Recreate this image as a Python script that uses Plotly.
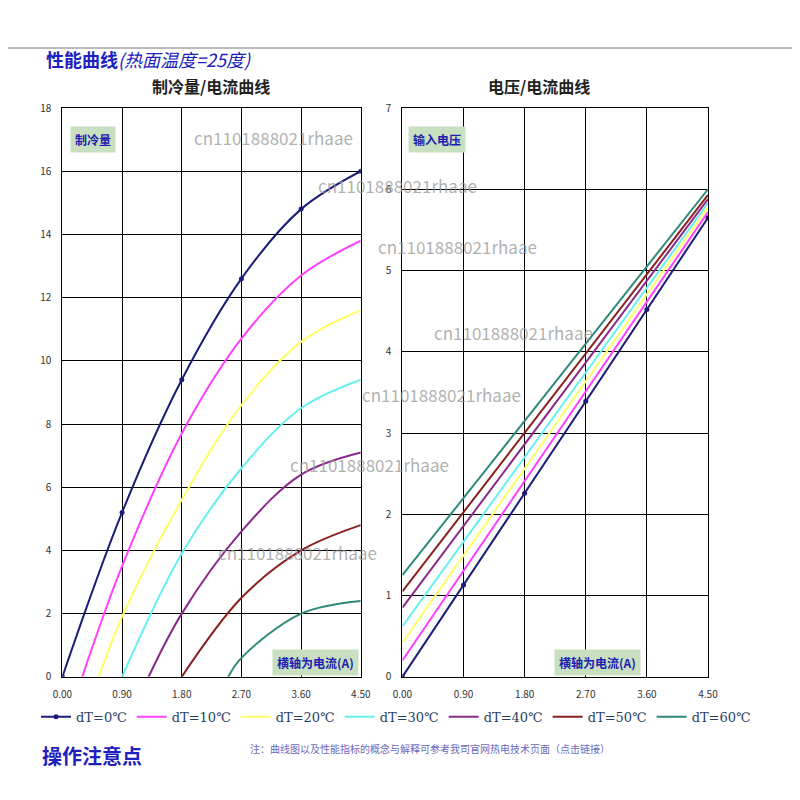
import plotly.graph_objects as go

names = ["dT=0℃", "dT=10℃", "dT=20℃", "dT=30℃", "dT=40℃", "dT=50℃", "dT=60℃"]
colors = ["#1c1c78", "#ff40ff", "#ffff66", "#66f0f0", "#8a2a8a", "#8a2020", "#2f8a7a"]

# cooling capacity vs current
q_x = [
    [0, 0.9, 1.8, 2.7, 3.6, 4.5],
    [0.3, 0.9, 1.8, 2.7, 3.6, 4.5],
    [0.55, 0.9, 1.8, 2.7, 3.6, 4.5],
    [0.9, 1.8, 2.7, 3.6, 4.5],
    [1.3, 1.8, 2.7, 3.6, 4.5],
    [1.8, 2.7, 3.6, 4.5],
    [2.5, 2.7, 3.6, 4.5],
]
q_y = [
    [0, 5.2, 9.4, 12.6, 14.8, 16.0],
    [0, 3.5, 7.7, 10.7, 12.7, 13.8],
    [0, 1.9, 5.6, 8.6, 10.6, 11.6],
    [0, 3.9, 6.6, 8.5, 9.4],
    [0, 2.0, 4.6, 6.4, 7.1],
    [0, 2.5, 4.0, 4.8],
    [0, 0.6, 2.0, 2.4],
]
# voltage vs current
v_x = [0, 0.9, 1.8, 2.7, 3.6, 4.5]
v_start = [0, 0.2, 0.42, 0.62, 0.85, 1.05, 1.25]
v_end = [5.65, 5.72, 5.78, 5.83, 5.88, 5.93, 6.0]

ticks = [0, 0.9, 1.8, 2.7, 3.6, 4.5]
tick_text = ["0.00", "0.90", "1.80", "2.70", "3.60", "4.50"]

# page has an 8px body offset
dx, dy = -0.01, 0.01

fig = go.Figure()
for i, n in enumerate(names):
    mk = dict(size=5, color=colors[i]) if i == 0 else dict(size=1)
    fig.add_trace(go.Scatter(x=q_x[i], y=q_y[i], mode="lines+markers" if i == 0 else "lines",
                             line=dict(color=colors[i], width=2, shape="spline"), marker=mk,
                             name=n, legendgroup=n, xaxis="x", yaxis="y"))
for i, n in enumerate(names):
    vy = [v_start[i] + (v_end[i] - v_start[i]) * x / 4.5 for x in v_x]
    fig.add_trace(go.Scatter(x=v_x, y=vy, mode="lines+markers" if i == 0 else "lines",
                             line=dict(color=colors[i], width=2),
                             marker=dict(size=5, color=colors[i]),
                             name=n, legendgroup=n, showlegend=False, xaxis="x2", yaxis="y2"))

ax = dict(showgrid=True, gridcolor="black", gridwidth=1, showline=True, linecolor="black",
          linewidth=1, mirror=True, zeroline=False, tickfont=dict(size=10, color="#333"), ticks="",
          ticklabelstandoff=8)
fig.update_layout(
    width=800, height=800, paper_bgcolor="white", plot_bgcolor="white",
    margin=dict(l=0, r=0, t=0, b=0, autoexpand=False),
    font=dict(family="Noto Sans CJK SC"),
    xaxis=dict(ax, domain=[0.078 + dx, 0.451 + dx], range=[0, 4.5], tickvals=ticks, ticktext=tick_text),
    yaxis=dict(ax, domain=[0.154 + dy, 0.865 + dy], range=[0, 18], dtick=2),
    xaxis2=dict(ax, domain=[0.503 + dx, 0.885 + dx], range=[0, 4.5], tickvals=ticks, ticktext=tick_text),
    yaxis2=dict(ax, domain=[0.154 + dy, 0.865 + dy], range=[0, 7], dtick=1),
    legend=dict(orientation="h", x=0.045 + dx, y=0.104 + dy, yanchor="middle",
                font=dict(size=13, family="DejaVu Serif"), itemwidth=30, tracegroupgap=0),
    showlegend=True,
)
fig.update_layout(yaxis2_anchor="x2", xaxis2_anchor="y2")

fig.add_shape(type="line", xref="paper", yref="paper", x0=0, x1=1, y0=0.94 + dy, y1=0.94 + dy,
              line=dict(color="#777", width=1))
ann = [
    dict(x=0.055, y=0.945, text="<b>性能曲线</b><i>(热面温度=25度)</i>", size=18, color="#2020c0", xanchor="left", yanchor="top"),
    dict(x=0.264, y=0.893, text="<b>制冷量/电流曲线</b>", size=16, color="#222", xanchor="center", yanchor="middle"),
    dict(x=0.674, y=0.893, text="<b>电压/电流曲线</b>", size=16, color="#222", xanchor="center", yanchor="middle"),
    dict(x=0.05, y=0.056, text="<b>操作注意点</b>", size=20, color="#2020c0", xanchor="left", yanchor="middle"),
    dict(x=0.31, y=0.064, text="注：曲线图以及性能指标的概念与解释可参考我司官网热电技术页面（点击链接）", size=10, color="#6a6ac0", xanchor="left", yanchor="middle"),
]
for a in ann:
    fig.add_annotation(xref="paper", yref="paper", x=a["x"] + dx, y=a["y"] + dy, text=a["text"], showarrow=False,
                       xanchor=a["xanchor"], yanchor=a["yanchor"], font=dict(size=a["size"], color=a["color"]))
boxes = [
    (0.087, 0.826, "制冷量"), (0.34, 0.172, "横轴为电流(A)"),
    (0.51, 0.826, "输入电压"), (0.692, 0.172, "横轴为电流(A)"),
]
for x, y, t in boxes:
    fig.add_annotation(xref="paper", yref="paper", x=x + dx, y=y + dy, text="<b>" + t + "</b>", showarrow=False,
                       xanchor="left", yanchor="middle", bgcolor="#c8e0c0", borderpad=4,
                       font=dict(size=12, color="#2020b0"))
wm = [(0.24, 0.828), (0.395, 0.768), (0.47, 0.692), (0.54, 0.585), (0.45, 0.507), (0.36, 0.42), (0.27, 0.31)]
for x, y in wm:
    fig.add_annotation(xref="paper", yref="paper", x=x + dx, y=y + dy, text="cn1101888021rhaae", showarrow=False,
                       xanchor="left", yanchor="middle", font=dict(size=17, color="rgba(150,150,150,0.75)"))

fig.write_html("out.html")
